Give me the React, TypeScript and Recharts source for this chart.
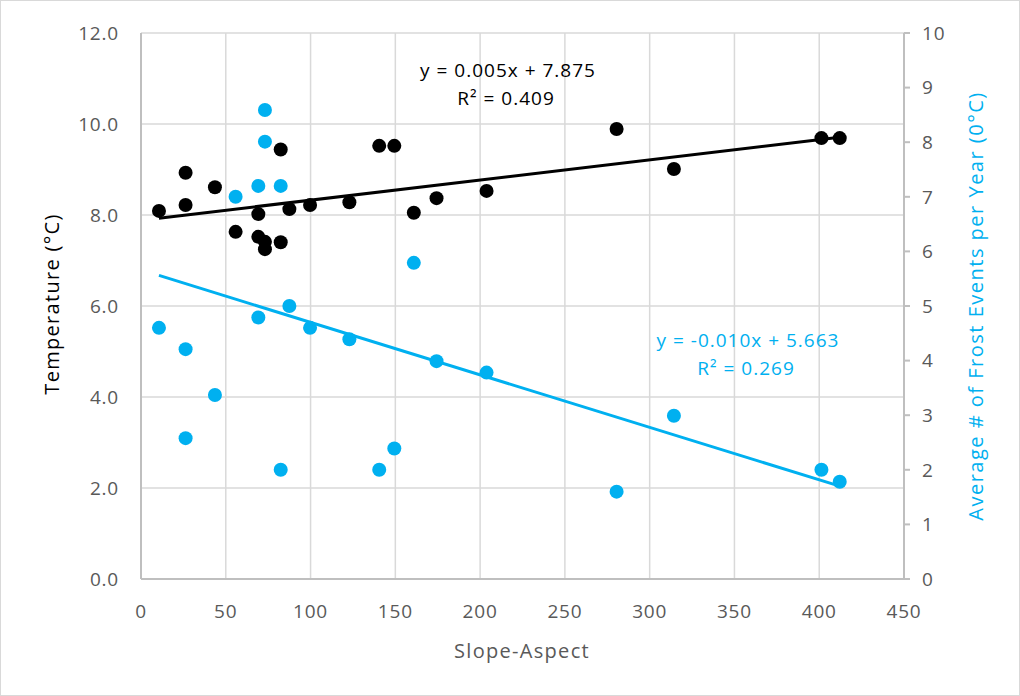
import { ScatterChart, Scatter, XAxis, YAxis, CartesianGrid } from 'recharts'

// Slope-aspect values shared by both series
const slopeAspect = [10.6, 26.3, 26.3, 43.6, 55.8, 69.2, 69.2, 73.1, 73.1, 82.4, 82.4, 87.5, 99.7, 122.9, 140.5, 149.4, 160.9, 174.3, 203.8, 280.5, 314.3, 401.3, 412.1]
const temperature = [8.09, 8.93, 8.22, 8.61, 7.63, 8.02, 7.52, 7.41, 7.25, 9.44, 7.40, 8.13, 8.22, 8.28, 9.52, 9.52, 8.05, 8.37, 8.53, 9.89, 9.01, 9.69, 9.69]
const frostEvents = [4.60, 4.21, 2.58, 3.37, 7.00, 7.20, 4.79, 8.59, 8.01, 7.20, 2.00, 5.00, 4.60, 4.39, 2.00, 2.39, 5.79, 3.99, 3.78, 1.60, 2.99, 2.00, 1.78]

// linear trendline end points (x, y)
const tempTrendX = [10.6, 412.1]
const tempTrendY = [7.93, 9.71]
const frostTrendX = [10.6, 412.1]
const frostTrendY = [5.56, 1.70]

const xTicks = [0, 50, 100, 150, 200, 250, 300, 350, 400, 450]
const leftTicks = [0, 2, 4, 6, 8, 10, 12]
const rightTicks = [0, 1, 2, 3, 4, 5, 6, 7, 8, 9, 10]

const BLUE = '#00B0F0'
const GREY_TEXT = '#595959'
const FONT = '"Open Sans", sans-serif'

const tempData = slopeAspect.map((x, i) => ({ x, y: temperature[i] }))
const frostData = slopeAspect.map((x, i) => ({ x, y: frostEvents[i] }))
const tempTrend = tempTrendX.map((x, i) => ({ x, y: tempTrendY[i] }))
const frostTrend = frostTrendX.map((x, i) => ({ x, y: frostTrendY[i] }))

const dot = (fill: string) => (props: any) =>
  <circle cx={props.cx} cy={props.cy} r={7} fill={fill} />

const noDot = () => <g />

const tickStyle = { fill: GREY_TEXT, fontSize: 19, fontFamily: FONT, letterSpacing: 0.8 }

export default function App() {
  return (
    <div style={{ position: 'absolute', left: 0, top: 0, width: 1020, height: 696, background: '#fff' }}>
      <style>{'body{margin:0}'}</style>
      <div style={{ position: 'absolute', left: 0, top: 0, width: 1018, height: 694, border: '1px solid #d9d9d9' }} />
      <ScatterChart
        width={1020}
        height={696}
        margin={{ top: 33, right: 36, bottom: 57, left: 61 }}
        style={{ position: 'absolute', left: 0, top: 0 }}
      >
        <CartesianGrid yAxisId="left" stroke="#d9d9d9" strokeWidth={1.5} />
        <XAxis
          type="number"
          dataKey="x"
          domain={[0, 450]}
          ticks={xTicks}
          height={60}
          tick={tickStyle}
          tickLine={false}
          tickMargin={20}
          axisLine={{ stroke: '#bfbfbf', strokeWidth: 2 }}
        />
        <YAxis
          yAxisId="left"
          type="number"
          dataKey="y"
          domain={[0, 12]}
          ticks={leftTicks}
          width={80}
          tick={tickStyle}
          tickFormatter={(v: number) => v.toFixed(1)}
          tickLine={false}
          tickMargin={16}
          axisLine={{ stroke: '#bfbfbf', strokeWidth: 2 }}
        />
        <YAxis
          yAxisId="right"
          orientation="right"
          type="number"
          dataKey="y"
          domain={[0, 10]}
          ticks={rightTicks}
          width={80}
          tick={tickStyle}
          tickLine={{ stroke: '#bfbfbf', strokeWidth: 2 }}
          tickSize={6}
          tickMargin={12}
          axisLine={{ stroke: '#bfbfbf', strokeWidth: 2 }}
        />
        <Scatter yAxisId="left" data={tempData} shape={dot('#000')} isAnimationActive={false} />
        <Scatter yAxisId="right" data={frostData} shape={dot(BLUE)} isAnimationActive={false} />
        <Scatter yAxisId="left" data={tempTrend} line={{ stroke: '#000', strokeWidth: 3 }} shape={noDot} isAnimationActive={false} />
        <Scatter yAxisId="right" data={frostTrend} line={{ stroke: BLUE, strokeWidth: 3 }} shape={noDot} isAnimationActive={false} />
      </ScatterChart>
      <svg width={1020} height={696} style={{ position: 'absolute', left: 0, top: 0, pointerEvents: 'none' }}>
        <g fontFamily={FONT} fontSize={19} letterSpacing={1}>
          <text x={508} y={77} textAnchor="middle" fill="#000">y = 0.005x + 7.875</text>
          <text x={506} y={105} textAnchor="middle" fill="#000">R² = 0.409</text>
          <text x={748} y={347} textAnchor="middle" fill={BLUE}>y = -0.010x + 5.663</text>
          <text x={746} y={375} textAnchor="middle" fill={BLUE}>R² = 0.269</text>
          <text x={522} y={658} textAnchor="middle" fill={GREY_TEXT} fontSize={20} letterSpacing={1.3}>Slope-Aspect</text>
          <text x={0} y={0} transform="translate(59 304) rotate(-90)" textAnchor="middle" fill="#000" fontSize={20} letterSpacing={1.3}>Temperature (°C)</text>
          <text x={0} y={0} transform="translate(983 306) rotate(-90)" textAnchor="middle" fill={BLUE} fontSize={20} letterSpacing={1.5}>Average # of Frost Events per Year (0°C)</text>
        </g>
      </svg>
    </div>
  )
}
